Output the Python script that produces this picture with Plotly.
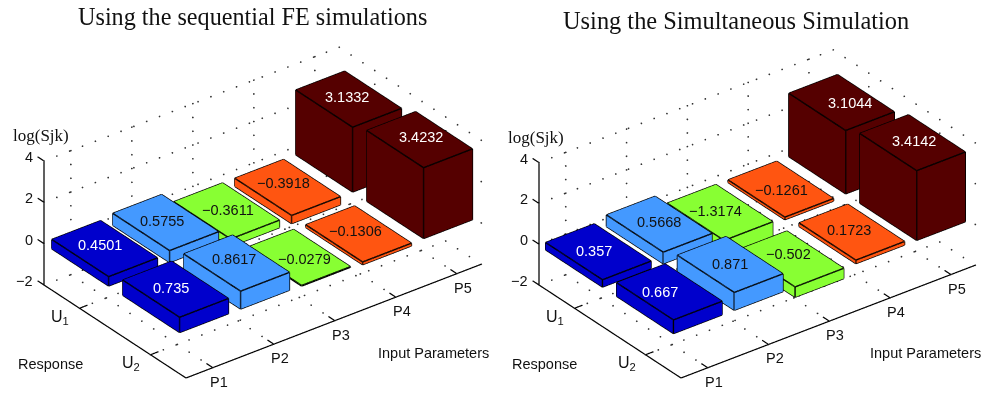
import numpy as np
import plotly.graph_objects as go

TITLES = ["Using the sequential FE simulations", "Using the Simultaneous Simulation"]
P_LABELS = ["P1", "P2", "P3", "P4", "P5"]
U_LABELS = ["U<sub>1</sub>", "U<sub>2</sub>"]
Z_TICKS = [-2, 0, 2, 4]
FE_U1 = [0.4501, 0.5755, -0.3611, -0.3918, 3.1332]
FE_U2 = [0.735, 0.8617, -0.0279, -0.1306, 3.4232]
SIM_U1 = [0.357, 0.5668, -1.3174, -0.1261, 3.1044]
SIM_U2 = [0.667, 0.871, -0.502, 0.1723, 3.4142]
LABELS_FE = [["0.4501", "0.5755", "−0.3611", "−0.3918", "3.1332"],
             ["0.735", "0.8617", "−0.0279", "−0.1306", "3.4232"]]
LABELS_SIM = [["0.357", "0.5668", "−1.3174", "−0.1261", "3.1044"],
              ["0.667", "0.871", "−0.502", "0.1723", "3.4142"]]
# hand placement of the value labels relative to the bar-top centre (px right, px up)
NUDGE_FE = [[(-6, 2), (-5, 0), (0, 0), (-6, 3), (-3, 1)],
            [(-6, 0), (-4, 3), (5, -3), (-5, 2), (0, 1)]]
NUDGE_SIM = [[(-7, -1), (-3, 0), (-7, 0), (-2, -3), (6, -2)],
             [(-12, -2), (-3, -1), (-5, 3), (-6, 0), (-1, 0)]]
COLORS = ["#0000cc", "#4499ff", "#88ff33", "#ff5511", "#550000"]
TEXT_COLORS = ["white", "#111111", "#111111", "#111111", "white"]

XMIN, XMAX, YMIN, YMAX, ZMIN, ZMAX = 0.56, 5.4, 0.5, 2.5, -2, 4
PAD = 0.25     # scene box is a little larger than the axes so nothing is clipped
W = 0.4
S = 197.0      # px per scene unit of the orthographic view
K = 2.0        # camera distance


def box(x, y, v):
    z0, z1 = min(0, v), max(0, v)
    xs = [x - W, x + W]
    ys = [y - W, y + W]
    vx, vy, vz = [], [], []
    for a in xs:
        for b in ys:
            for c in (z0, z1):
                vx.append(a); vy.append(b); vz.append(c)
    tri = [(0, 1, 3), (0, 3, 2), (4, 5, 7), (4, 7, 6), (0, 1, 5), (0, 5, 4),
           (2, 3, 7), (2, 7, 6), (0, 2, 6), (0, 6, 4), (1, 3, 7), (1, 7, 5)]
    edges = [(0, 1), (2, 3), (4, 5), (6, 7), (0, 2), (1, 3), (4, 6), (5, 7),
             (0, 4), (1, 5), (2, 6), (3, 7)]
    lx, ly, lz = [], [], []
    for p, q in edges:
        lx += [vx[p], vx[q], None]
        ly += [vy[p], vy[q], None]
        lz += [vz[p], vz[q], None]
    return vx, vy, vz, tri, lx, ly, lz


def panel(fig, scene, u1, u2, labels, nudge, ex, ey, ez, origin, dom, bar_dx, bar_dy):
    ex, ey = np.array(ex, float), np.array(ey, float)
    a, b = ex[0], ex[1]
    c, d = ey[0], ey[1]
    ratio = abs(a * b) / abs(c * d)
    dx2 = a * a + c * c * ratio
    dy2 = dx2 / ratio
    dx, dy = np.sqrt(dx2), np.sqrt(dy2)
    rem = 1 - b * b / dx2 - d * d / dy2
    dz = ez / np.sqrt(rem)
    r1 = np.array([a / dx, -c / dy, 0.0])
    r2 = np.array([b / dx, -d / dy, ez / dz])
    r3 = np.cross(r1, r2)
    rx = [XMIN - PAD, XMAX + PAD]
    ry = [YMIN - PAD, YMAX + PAD]
    rz = [ZMIN - PAD, ZMAX + PAD]
    sx, sy, sz = (rx[1] - rx[0]) * dx, (ry[1] - ry[0]) * dy, (rz[1] - rz[0]) * dz

    for i, (row, yc) in enumerate(zip((u1, u2), (1, 2))):
        for j, v in enumerate(row):
            vx, vy, vz, tri, lx, ly, lz = box(j + 1 + bar_dx, yc + bar_dy, v)
            fig.add_trace(go.Mesh3d(x=vx, y=vy, z=vz,
                                    i=[t[0] for t in tri], j=[t[1] for t in tri], k=[t[2] for t in tri],
                                    color=COLORS[j], flatshading=True, hoverinfo="skip",
                                    lighting=dict(ambient=1, diffuse=0, specular=0, fresnel=0, roughness=1),
                                    scene=scene, showlegend=False))
            fig.add_trace(go.Scatter3d(x=lx, y=ly, z=lz, mode="lines", hoverinfo="skip",
                                       line=dict(color="#000000", width=2.8), scene=scene, showlegend=False))

    # solid axes and ticks
    ax, ay, az = [], [], []
    def seg(p, q):
        ax.extend([p[0], q[0], None]); ay.extend([p[1], q[1], None]); az.extend([p[2], q[2], None])
    seg((XMIN, YMIN, ZMIN), (XMIN, YMIN, ZMAX))
    seg((XMIN, YMIN, ZMIN), (XMIN, YMAX, ZMIN))
    seg((XMIN, YMAX, ZMIN), (XMAX, YMAX, ZMIN))
    for j in range(1, 6):
        seg((j, YMAX, ZMIN), (j, YMAX - 0.09, ZMIN))
    for yc in (1, 2):
        seg((XMIN, yc, ZMIN), (XMIN + 0.13, yc, ZMIN))
    for zt in Z_TICKS:
        seg((XMIN, YMIN, zt), (XMIN, YMIN - 0.09, zt))
    fig.add_trace(go.Scatter3d(x=ax, y=ay, z=az, mode="lines", hoverinfo="skip",
                               line=dict(color="#000000", width=2.4), scene=scene, showlegend=False))

    # dotted grid
    gx, gy, gz = [], [], []
    def dotted(p, q):
        p, q = np.array(p, float), np.array(q, float)
        pix = np.linalg.norm((q - p)[0] * ex + (q - p)[1] * ey + np.array([0, (q - p)[2] * ez]))
        n = int(pix / 13.5)
        for t in np.linspace(0, 1, n + 1):
            pt = p + t * (q - p)
            gx.append(pt[0]); gy.append(pt[1]); gz.append(pt[2])
    for zt in Z_TICKS:
        dotted((XMIN, YMIN, zt), (XMAX, YMIN, zt))
        dotted((XMAX, YMIN, zt), (XMAX, YMAX, zt))
    for j in range(1, 6):
        dotted((j, YMIN, ZMIN), (j, YMIN, ZMAX))
        dotted((j, YMIN, ZMIN), (j, YMAX, ZMIN))
    for yc in (1, 2):
        dotted((XMAX, yc, ZMIN), (XMAX, yc, ZMAX))
        dotted((XMIN, yc, ZMIN), (XMAX, yc, ZMIN))
    fig.add_trace(go.Scatter3d(x=gx, y=gy, z=gz, mode="markers", hoverinfo="skip",
                               marker=dict(color="#333333", size=1, line=dict(width=0)),
                               scene=scene, showlegend=False))

    ann = []
    for i, (row, yc) in enumerate(zip((u1, u2), (1, 2))):
        for j, v in enumerate(row):
            ann.append(dict(x=j + 1, y=yc, z=max(v, 0), text=labels[i][j], showarrow=False,
                            xshift=nudge[i][j][0], yshift=nudge[i][j][1],
                            font=dict(family="Liberation Sans", size=14.5, color=TEXT_COLORS[j])))
    for j, t in enumerate(P_LABELS):
        ann.append(dict(x=j + 1, y=YMAX, z=ZMIN, text=t, showarrow=False, xshift=6, yshift=-14,
                        font=dict(family="Liberation Sans", size=14.5, color="#111111")))
    for t, yc in zip(U_LABELS, (1, 2)):
        ann.append(dict(x=XMIN, y=yc, z=ZMIN, text=t, showarrow=False, xshift=-19, yshift=-9,
                        font=dict(family="Liberation Sans", size=16, color="#111111")))
    for zt in Z_TICKS:
        ann.append(dict(x=XMIN, y=YMIN, z=zt, text=str(zt).replace("-", "−"), showarrow=False,
                        xanchor="right", xshift=-9, yshift=4,
                        font=dict(family="Liberation Sans", size=14.5, color="#111111")))
    ann.append(dict(x=XMIN, y=YMIN, z=ZMAX, text="log(Sjk)", showarrow=False, xshift=-3, yshift=25,
                    font=dict(family="Liberation Serif", size=17, color="#111111")))

    # place the scene box centre on the page
    cube = np.array([(rx[0] + rx[1]) / 2 - XMIN, (ry[0] + ry[1]) / 2 - YMIN, (rz[0] + rz[1]) / 2 - ZMIN])
    cube_px = np.array(origin, float) + cube[0] * np.array([ex[0], -ex[1]]) \
        + cube[1] * np.array([ey[0], -ey[1]]) + np.array([0, -cube[2] * ez])
    dom_c = np.array([(dom[0] + dom[1]) / 2 * 994, 197.0])
    off = cube_px - dom_c
    cen = (-off[0] * r1 + off[1] * r2) / S
    eye = cen + K * r3
    fig.layout[scene] = dict(
        domain=dict(x=list(dom), y=[0, 1]),
        bgcolor="white",
        aspectmode="manual",
        aspectratio=dict(x=sx / S, y=sy / S, z=sz / S),
        camera=dict(projection=dict(type="orthographic"),
                    up=dict(x=0, y=0, z=1),
                    center=dict(x=cen[0], y=cen[1], z=cen[2]),
                    eye=dict(x=eye[0], y=eye[1], z=eye[2])),
        xaxis=dict(visible=False, range=rx),
        yaxis=dict(visible=False, range=ry[::-1]),
        zaxis=dict(visible=False, range=rz),
        annotations=ann,
    )


fig = go.Figure()
panel(fig, "scene", FE_U1, FE_U2, LABELS_FE, NUDGE_FE, (61, 23.5), (71, -46.5), 20.67, (44, 285), (0, 0.5), -0.04, 0.01)
panel(fig, "scene2", SIM_U1, SIM_U2, LABELS_SIM, NUDGE_SIM, (60.8, 23.3), (71, -46.5), 20.4, (494 + 45, 285), (0.5, 1), -0.06, 0.011)


def note(px, py, text, family, size):
    return dict(x=px / 994, y=1 - py / 394, xref="paper", yref="paper", text=text, showarrow=False,
                xanchor="center", yanchor="middle",
                font=dict(family=family, size=size, color="#111111"))


fig.update_layout(
    width=994, height=394, margin=dict(l=0, r=0, t=0, b=0), paper_bgcolor="white",
    annotations=[
        note(252, 17, TITLES[0], "Liberation Serif", 24.2),
        note(736, 20, TITLES[1], "Liberation Serif", 24.4),
        note(50, 364, "Response", "Liberation Sans", 14.5),
        note(433, 353, "Input Parameters", "Liberation Sans", 14.5),
        note(494 + 50, 364, "Response", "Liberation Sans", 14.5),
        note(494 + 431, 353, "Input Parameters", "Liberation Sans", 14.5),
    ],
)
fig.write_html("out.html", config=dict(displayModeBar=False),
               post_script="document.body.style.margin='0';document.documentElement.style.overflow='hidden';")
